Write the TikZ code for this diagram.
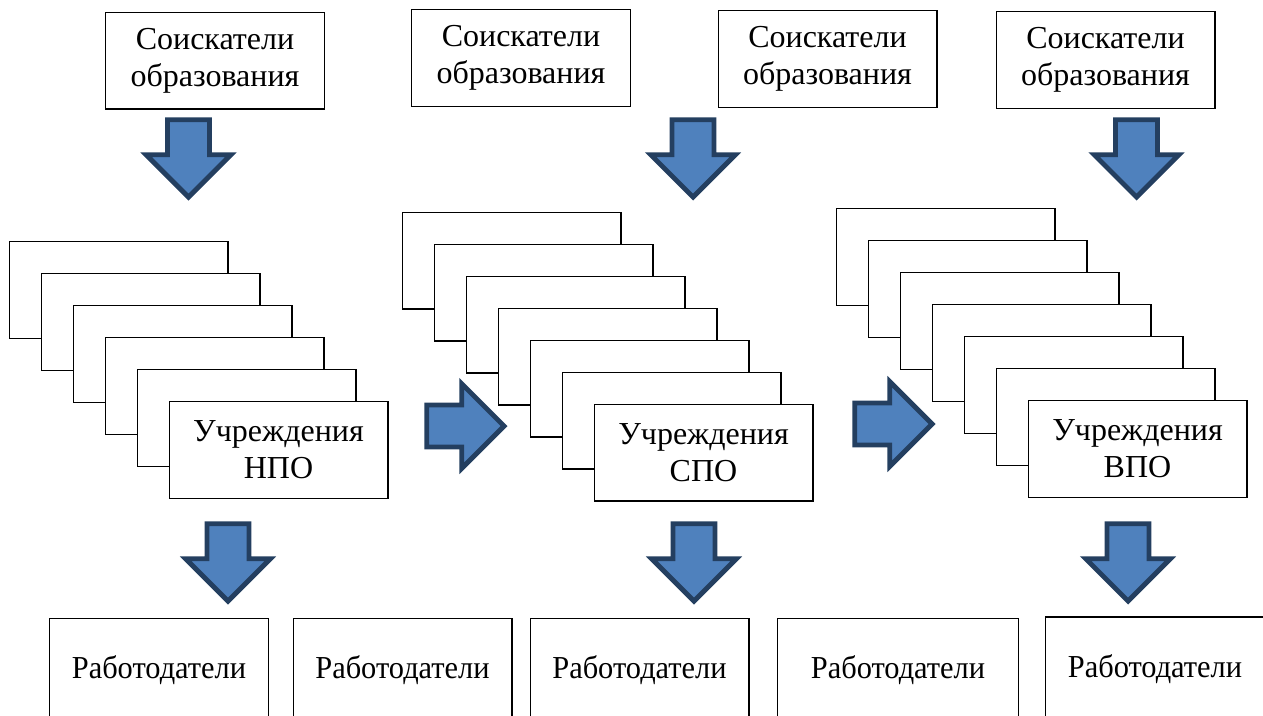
\documentclass[tikz,border=0pt]{standalone}
\usepackage{fontspec}
\setmainfont{Liberation Serif}
\usetikzlibrary{positioning,shapes.arrows}
\definecolor{ablue}{RGB}{79,129,189}
\definecolor{adark}{RGB}{36,63,96}

\begin{document}
\begin{tikzpicture}[x=0.75pt,y=-0.75pt,
    box/.style={rectangle, draw, fill=white, line width=1pt, minimum width=164pt, minimum height=72.5pt, inner sep=0pt, align=center, font=\fontsize{24}{27.75}\selectfont},
    work/.style={box, minimum height=78pt, font=\fontsize{24}{27.75}\selectfont\addfontfeatures{FakeStretch=0.95}},
    bigarrow/.style={single arrow, draw=adark, fill=ablue, line width=3.6pt, minimum height=58pt, single arrow head extend=16pt, inner xsep=0pt, inner ysep=14pt, anchor=tip}]
    \clip (0,0) rectangle (1263,715);

    \node[box] (Seek1) at (215,60.5) {Соискатели\\образования};
    \node[box] (Seek2) at (521,58) {Соискатели\\образования};
    \node[box] (Seek3) at (827.5,59) {Соискатели\\образования};
    \node[box] (Seek4) at (1105.5,60) {Соискатели\\образования};

    \node[bigarrow,rotate=-90] (DownA) at (188.5,200.5) {};
    \node[bigarrow,rotate=-90] (DownB) at (693,200.5) {};
    \node[bigarrow,rotate=-90] (DownC) at (1136.5,200.5) {};

    \foreach \k in {5,...,1} \node[box] (NpoBack\k) at (278.5-32*\k,450-32*\k) {};
    \node[box] (Npo) at (278.5,450) {Учреждения\\НПО};
    \foreach \k in {6,...,1} \node[box] (SpoBack\k) at (703.5-32*\k,452.5-32*\k) {};
    \node[box] (Spo) at (703.5,452.5) {Учреждения\\СПО};
    \foreach \k in {6,...,1} \node[box] (VpoBack\k) at (1137.5-32*\k,449-32*\k) {};
    \node[box] (Vpo) at (1137.5,449) {Учреждения\\ВПО};

    \node[bigarrow] (RightA) at (507.5,426) {};
    \node[bigarrow] (RightB) at (935.5,424) {};

    \node[bigarrow,rotate=-90] (DownD) at (228,604.5) {};
    \node[bigarrow,rotate=-90] (DownE) at (694,604.5) {};
    \node[bigarrow,rotate=-90] (DownF) at (1128,604.5) {};

    \node[work] (Emp1) at (159,670.5) {Работодатели};
    \node[work] (Emp2) at (402.5,670.5) {Работодатели};
    \node[work] (Emp3) at (639.5,670.5) {Работодатели};
    \node[work,minimum width=180.75pt] (Emp4) at (898,670.5) {Работодатели};
    \node[work] (Emp5) at (1155,669) {Работодатели};
  \end{tikzpicture}
\end{document}
